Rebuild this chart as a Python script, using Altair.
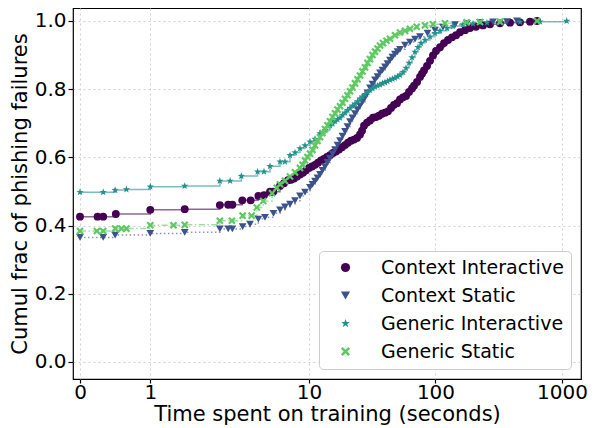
import altair as alt
import pandas as pd
import math

groups = ["Context Interactive", "Context Static", "Generic Interactive", "Generic Static"]
colors = ["#440154", "#3b528b", "#21918c", "#5ec962"]

ci_time = [0, 0.25, 0.33, 0.51, 1.0, 1.49, 1.99, 2.30, 2.48, 2.97, 3.46, 3.98, 4.41, 4.92, 5.22,
           5.90, 6.35, 6.83, 7.21, 7.61, 8.04, 8.49, 8.97, 9.47, 10.0, 10.56, 11.16, 11.78, 12.45, 13.14,
           13.88, 14.66, 15.48, 16.35, 17.27, 18.24, 19.27, 20.35, 21.49, 22.70, 23.97, 25.32, 26.26, 27.23,
           28.76, 30.37, 32.08, 33.88, 35.78, 37.79, 39.90, 42.14, 44.51, 47.01, 49.65, 52.43, 55.38, 58.48,
           61.77, 65.24, 67.67, 71.45, 75.46, 78.26, 81.16, 85.73, 90.54, 95.61, 100.97, 108.6, 116.8, 125.6,
           135.1, 145.3, 156.3, 171.2, 187.5, 209.1, 237.5, 269.8, 323.6, 388.2, 465.9, 558.8, 634.8]
ci_frac = [0.426, 0.426, 0.426, 0.434, 0.446, 0.448, 0.460, 0.461, 0.461, 0.474, 0.474, 0.487, 0.489, 0.499, 0.499,
           0.516, 0.524, 0.533, 0.534, 0.538, 0.544, 0.550, 0.555, 0.562, 0.569, 0.573, 0.578, 0.584, 0.591, 0.595,
           0.601, 0.606, 0.613, 0.617, 0.623, 0.630, 0.636, 0.643, 0.649, 0.652, 0.657, 0.667, 0.678, 0.693,
           0.702, 0.708, 0.716, 0.718, 0.722, 0.728, 0.731, 0.735, 0.745, 0.754, 0.759, 0.770, 0.776, 0.780,
           0.792, 0.802, 0.810, 0.821, 0.836, 0.845, 0.855, 0.868, 0.883, 0.899, 0.912, 0.923, 0.935, 0.944,
           0.952, 0.958, 0.967, 0.973, 0.979, 0.983, 0.987, 0.990, 0.993, 0.995, 0.996, 0.998, 1.0]

cs_time = [0, 0.33, 0.50, 1.0, 1.49, 1.99, 2.30, 2.48, 2.99, 3.42, 3.98, 4.49, 5.24,
           5.90, 6.46, 7.08, 7.75, 8.49, 9.30, 10.19, 10.66, 11.16, 11.68, 12.22, 12.79, 13.39, 14.01, 14.66,
           15.35, 16.06, 16.81, 17.59, 18.41, 19.27, 20.16, 21.10, 22.08, 23.11, 24.19, 25.31, 26.49, 27.73,
           29.01, 30.37, 31.78, 33.26, 34.81, 36.43, 38.13, 39.90, 41.76, 43.70, 45.73, 47.86, 50.10, 52.42,
           57.42, 62.89, 68.88, 75.44, 86.48, 99.1, 114.7, 142.7, 177.5, 224.9, 284.9, 367.6, 441.0]
cs_frac = [0.365, 0.365, 0.372, 0.377, 0.380, 0.390, 0.390, 0.390, 0.397, 0.404, 0.419, 0.424, 0.436,
           0.446, 0.455, 0.463, 0.473, 0.487, 0.498, 0.512, 0.521, 0.530, 0.540, 0.550, 0.562, 0.573, 0.585, 0.597,
           0.610, 0.623, 0.636, 0.649, 0.662, 0.676, 0.690, 0.705, 0.716, 0.728, 0.740, 0.751, 0.763, 0.775,
           0.789, 0.804, 0.815, 0.827, 0.837, 0.848, 0.856, 0.865, 0.875, 0.885, 0.894, 0.903, 0.910, 0.917,
           0.929, 0.938, 0.947, 0.954, 0.964, 0.973, 0.982, 0.989, 0.993, 0.996, 0.997, 0.998, 1.0]

gi_time = [0, 0.33, 0.50, 0.66, 1.0, 1.49, 1.99, 2.38, 2.92, 3.92, 4.41, 4.92,
           5.90, 6.46, 7.08, 7.75, 8.49, 9.30, 10.19, 11.16, 12.22, 13.39, 14.66, 15.35, 16.06, 16.81, 17.59,
           18.41, 19.27, 20.16, 21.10, 22.08, 23.11, 24.19, 25.31, 26.49, 27.73, 29.01, 30.37, 31.78, 33.26,
           34.81, 36.43, 38.13, 39.90, 41.76, 43.70, 45.73, 47.86, 50.10, 52.42, 55.38, 58.48, 61.77, 65.24,
           68.88, 72.75, 76.83, 82.64, 90.51, 99.1, 108.6, 123.3, 137.5, 165.0, 198.0, 255.5, 323.6, 465.9,
           670.4, 1090]
gi_frac = [0.498, 0.498, 0.504, 0.506, 0.514, 0.516, 0.531, 0.531, 0.545, 0.558, 0.558, 0.574,
           0.587, 0.587, 0.606, 0.614, 0.626, 0.635, 0.646, 0.654, 0.670, 0.680, 0.693, 0.699, 0.706, 0.711, 0.716,
           0.724, 0.731, 0.738, 0.745, 0.751, 0.757, 0.764, 0.772, 0.778, 0.785, 0.791, 0.797, 0.802, 0.807,
           0.810, 0.813, 0.817, 0.820, 0.823, 0.827, 0.830, 0.833, 0.837, 0.842, 0.850, 0.862, 0.877, 0.893,
           0.909, 0.923, 0.935, 0.944, 0.954, 0.964, 0.971, 0.979, 0.985, 0.989, 0.992, 0.995, 0.996, 0.997,
           0.998, 1.0]

gs_time = [0, 0.24, 0.33, 0.50, 0.59, 0.66, 1.0, 1.33, 1.49, 1.99, 2.46, 2.99, 3.52, 3.87, 4.35, 5.11, 5.57,
           5.90, 6.46, 7.08, 7.75, 8.49, 8.89, 9.30, 9.73, 10.19, 10.66, 11.16, 11.68, 12.22, 12.79, 13.39,
           14.01, 14.66, 15.35, 16.06, 16.81, 17.59, 18.41, 19.27, 20.16, 21.10, 22.08, 23.11, 24.19, 25.31,
           26.49, 27.73, 29.01, 30.37, 31.78, 33.26, 34.81, 36.43, 38.48, 41.01, 43.70, 47.86, 52.42, 57.42,
           62.89, 71.04, 82.64, 95.59, 118.9, 176.5, 224.9, 323.6, 634.8]
gs_frac = [0.384, 0.384, 0.384, 0.391, 0.391, 0.391, 0.401, 0.401, 0.402, 0.414, 0.414, 0.429, 0.429, 0.453, 0.472, 0.495, 0.511,
           0.521, 0.531, 0.544, 0.556, 0.569, 0.578, 0.591, 0.601, 0.611, 0.622, 0.635, 0.648, 0.659, 0.671, 0.683,
           0.694, 0.706, 0.718, 0.729, 0.740, 0.750, 0.760, 0.772, 0.782, 0.794, 0.805, 0.817, 0.829, 0.840,
           0.852, 0.864, 0.877, 0.888, 0.900, 0.910, 0.919, 0.928, 0.935, 0.942, 0.948, 0.958, 0.966, 0.971,
           0.977, 0.983, 0.987, 0.990, 0.993, 0.996, 0.997, 0.998, 1.0]

x_tick_labels = ["0", "1", "10", "100", "1000"]
y_ticks = [0.0, 0.2, 0.4, 0.6, 0.8, 1.0]

STAR = "M0,-1L0.235,-0.324L0.951,-0.309L0.38,0.124L0.588,0.809L0,0.4L-0.588,0.809L-0.38,0.124L-0.951,-0.309L-0.235,-0.324Z"
XMARK = "M-1,-0.6L-0.6,-1L0,-0.4L0.6,-1L1,-0.6L0.4,0L1,0.6L0.6,1L0,0.4L-0.6,1L-1,0.6L-0.4,0Z"
shapes = ["circle", "triangle-down", STAR, XMARK]
marker_sizes = [62, 58, 100, 58]
dashes = [[1, 0], [1.5, 2.5], [1, 0], [6, 2.5, 1.5, 2.5]]

series = [(ci_time, ci_frac), (cs_time, cs_frac), (gi_time, gi_frac), (gs_time, gs_frac)]
rows = []
k = 0
for g, (ts, fs) in zip(groups, series):
    assert len(ts) == len(fs), (g, len(ts), len(fs))
    for t, f in zip(ts, fs):
        rows.append({"group": g, "order": k, "seconds": t, "frac": f})
        k += 1
df = pd.DataFrame(rows)


def symlog(v):
    # matplotlib symlog, linthresh=2, linscale=1
    if v <= 2:
        return v * 10 / 9
    return 2 * (10 / 9 + math.log10(v / 2))


tick_vals = [symlog(float(s)) for s in x_tick_labels]
label_expr = ("datum.value < 0.5 ? '0' : datum.value < 2 ? '1' : "
              "datum.value < 4 ? '10' : datum.value < 6 ? '100' : '1000'")

base = alt.Chart(df).transform_calculate(
    pos="datum.seconds <= 2 ? datum.seconds * 10 / 9 : 2 * (10 / 9 + log(datum.seconds / 2) / LN10)",
    line_group="datum.group",
    size_group="datum.group",
)

x_enc = alt.X("pos:Q",
              scale=alt.Scale(domain=[-0.1107, 7.921], nice=False, zero=False),
              axis=alt.Axis(values=tick_vals, labelExpr=label_expr,
                            title="Time spent on training (seconds)",
                            tickSize=4, labelPadding=-1, titlePadding=1))
y_enc = alt.Y("frac:Q",
              scale=alt.Scale(domain=[-0.05, 1.038], nice=False, zero=False),
              axis=alt.Axis(values=y_ticks, format=".1f",
                            title="Cumul frac of phishing failures",
                            tickSize=5, labelPadding=2, titlePadding=4))

# stroke / dash / size scales take their (alphabetical) domain from the data,
# so they are not merged with the colour/shape legend
lines = base.mark_line(interpolate="step-after", strokeWidth=1.5, opacity=0.6).encode(
    x=x_enc, y=y_enc,
    stroke=alt.Stroke("line_group:N", scale=alt.Scale(range=colors), legend=None),
    strokeDash=alt.StrokeDash("line_group:N", scale=alt.Scale(range=dashes), legend=None),
    detail="line_group:N",
    order="order:Q",
)

leg = alt.Legend(title=None, orient="bottom-right", offset=10)

points = base.mark_point(filled=True, opacity=1).encode(
    x=x_enc, y=y_enc,
    color=alt.Color("group:N", scale=alt.Scale(domain=groups, range=colors), legend=leg),
    shape=alt.Shape("group:N", scale=alt.Scale(domain=groups, range=shapes), legend=leg),
    size=alt.Size("size_group:N", scale=alt.Scale(range=marker_sizes), legend=None),
)

chart = alt.layer(lines, points).properties(
    width=508, height=371,
    autosize=alt.AutoSizeParams(type="none"),
    padding={"left": 65, "top": 0, "right": 9, "bottom": 49},
).configure_view(
    stroke="black", strokeWidth=1.2
).configure_axis(
    domain=False, grid=True, gridColor="#d0d0d0", gridDash=[2, 3], gridWidth=1,
    tickColor="black", tickWidth=1.2,
    labelFont="DejaVu Sans", labelFontSize=20, labelColor="black",
    titleFont="DejaVu Sans", titleFontSize=21, titleFontWeight="normal", titleColor="black",
).configure_legend(
    fillColor="white", strokeColor="#cccccc", cornerRadius=4, padding=7,
    labelFontSize=19, labelFont="DejaVu Sans", labelColor="black",
    symbolSize=85, rowPadding=8, labelOffset=26, symbolOffset=10, labelLimit=400,
)

chart.save("out.html", embed_options={"renderer": "svg", "actions": False})
